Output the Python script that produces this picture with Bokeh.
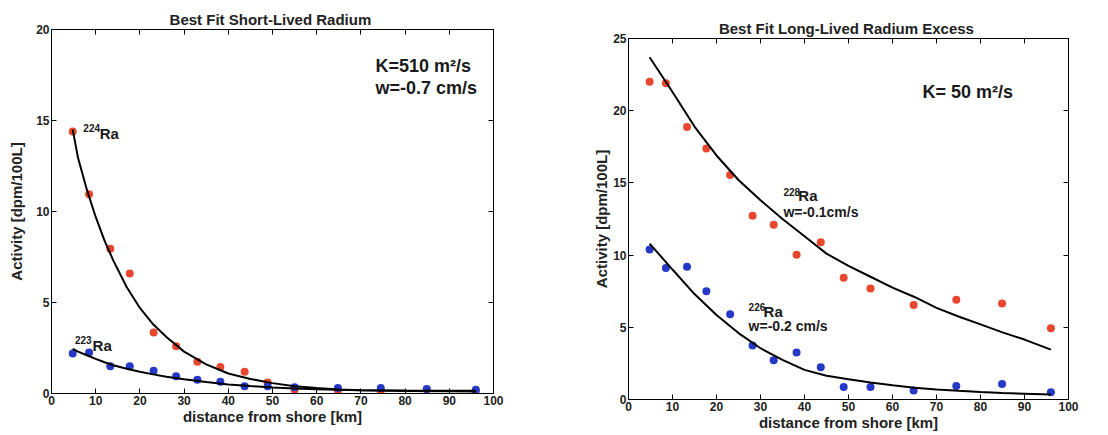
from bokeh.plotting import figure
from bokeh.models import LinearAxis, FixedTicker, Range1d
from bokeh.layouts import row
from bokeh.embed import file_html
from bokeh.resources import INLINE
from bokeh.core.properties import value

FONT = "Liberation Sans"
RED = "#e8472f"
BLUE = "#2538c6"

# station distances (km)
distance_km = [4.8, 8.5, 13.3, 17.7, 23.1, 28.2, 33.0, 38.2, 43.7, 48.9, 55.0, 64.8, 74.5, 84.9, 96.0]

# short-lived radium (dpm/100L)
ra224 = [14.4, 10.95, 7.95, 6.6, 3.35, 2.6, 1.75, 1.45, 1.2, 0.6, 0.2, 0.15, 0.15, 0.2, 0.15]
ra223 = [2.2, 2.25, 1.5, 1.5, 1.25, 0.95, 0.75, 0.65, 0.4, 0.4, 0.35, 0.3, 0.3, 0.25, 0.2]

# long-lived radium excess (dpm/100L)
ra228 = [22.0, 21.9, 18.87, 17.38, 15.54, 12.72, 12.1, 10.02, 10.89, 8.44, 7.68, 6.54, 6.9, 6.65, 4.93]
ra226 = [10.39, 9.1, 9.2, 7.5, 5.9, 3.74, 2.71, 3.26, 2.23, 0.87, 0.87, 0.62, 0.93, 1.08, 0.5]

# best-fit curves
fit_x_short = [4.8, 6, 8, 10, 12, 14, 17, 20, 23, 26, 30, 35, 40, 45, 50, 55, 60, 65, 70, 80, 90, 96]
fit224 = [14.5, 12.95, 11.2, 9.7, 8.4, 7.3, 5.85, 4.7, 3.8, 3.1, 2.3, 1.6, 1.1, 0.8, 0.57, 0.4, 0.3, 0.22, 0.18, 0.14, 0.12, 0.11]
fit223 = [2.45, 2.3, 2.1, 1.9, 1.72, 1.55, 1.36, 1.2, 1.05, 0.92, 0.78, 0.63, 0.5, 0.41, 0.33, 0.27, 0.23, 0.2, 0.18, 0.16, 0.15, 0.15]

fit_x_long = [4.8, 10, 15, 20, 25, 30, 35, 40, 45, 50, 55, 60, 65, 70, 75, 80, 85, 90, 96]
fit228 = [23.7, 21.3, 18.9, 16.9, 15.2, 13.8, 12.5, 11.3, 10.1, 9.25, 8.5, 7.75, 7.1, 6.35, 5.75, 5.2, 4.65, 4.15, 3.45]
fit226 = [10.8, 9.0, 7.3, 5.85, 4.6, 3.55, 2.75, 2.05, 1.65, 1.4, 1.18, 0.98, 0.82, 0.7, 0.6, 0.52, 0.45, 0.4, 0.34]

x_ticks = [0, 10, 20, 30, 40, 50, 60, 70, 80, 90, 100]
y_ticks_short = [0, 5, 10, 15, 20]
y_ticks_long = [0, 5, 10, 15, 20, 25]


def style_axis(ax, ticks, show_labels=True):
    ax.ticker = FixedTicker(ticks=ticks)
    ax.major_tick_in = 5
    ax.major_tick_out = 0
    ax.minor_tick_line_color = None
    ax.axis_line_color = "black"
    ax.major_tick_line_color = "black"
    ax.major_label_text_font = FONT
    ax.major_label_text_font_style = "bold"
    ax.major_label_text_color = "#222222"
    if show_labels:
        ax.major_label_text_font_size = "12px"
        ax.major_label_standoff = 2
    else:
        ax.major_label_overrides = {t: "" for t in ticks}
        ax.major_label_text_font_size = "1px"
        ax.major_label_standoff = 0


def make_fig(width, height, ymax, yticks, title, borders, ylabel_standoff):
    p = figure(width=width, height=height, x_range=Range1d(0, 100), y_range=Range1d(0, ymax),
               output_backend="svg", toolbar_location=None,
               min_border_left=borders[0], min_border_right=borders[1],
               min_border_top=borders[2], min_border_bottom=borders[3])
    p.frame_align = False
    p.grid.grid_line_color = None
    p.outline_line_color = "black"
    p.background_fill_color = "white"
    p.border_fill_color = "white"
    style_axis(p.xaxis[0], x_ticks)
    style_axis(p.yaxis[0], yticks)
    p.xaxis.axis_label = "distance from shore [km]"
    p.yaxis.axis_label = "Activity [dpm/100L]"
    for ax in (p.xaxis[0], p.yaxis[0]):
        ax.axis_label_text_font = FONT
        ax.axis_label_text_font_style = "bold"
        ax.axis_label_text_font_size = "15px"
        ax.axis_label_text_color = "#222222"
    p.xaxis.axis_label_standoff = 0
    p.yaxis.axis_label_standoff = ylabel_standoff
    top = LinearAxis()
    style_axis(top, x_ticks, show_labels=False)
    p.add_layout(top, "above")
    right = LinearAxis()
    style_axis(right, yticks, show_labels=False)
    p.add_layout(right, "right")
    p.title.text = title
    p.title.align = "center"
    p.title.text_font = FONT
    p.title.text_font_style = "bold"
    p.title.text_font_size = "15px"
    p.title.text_color = "#222222"
    p.title.standoff = 3
    return p


def label(p, x, y, text, size):
    p.text(x=[x], y=[y], text=[text], text_font=value(FONT), text_font_style="bold",
           text_font_size=size, text_color="#1a1a1a", text_baseline="alphabetic", text_align="left")


# ---- left panel ----
p1 = make_fig(548, 433, 20, y_ticks_short, "Best Fit  Short-Lived Radium", (51, 55, 29, 40), 8)
p1.scatter(distance_km, ra224, size=8, color=RED, line_color=None)
p1.scatter(distance_km, ra223, size=8, color=BLUE, line_color=None)
p1.line(fit_x_short, fit224, line_color="black", line_width=2)
p1.line(fit_x_short, fit223, line_color="black", line_width=2)
label(p1, 73.3, 18.0, "K=510 m²/s", "18px")
label(p1, 73.3, 16.8, "w=-0.7 cm/s", "18px")
label(p1, 7.2, 14.6, "224", "10px")
label(p1, 10.9, 14.3, "Ra", "15px")
label(p1, 5.3, 2.95, "223", "10px")
label(p1, 9.3, 2.65, "Ra", "15px")

# ---- right panel ----
p2 = make_fig(558, 433, 25, y_ticks_long, "Best Fit  Long-Lived Radium Excess", (80, 38, 38, 31), 0)
p2.scatter(distance_km, ra228, size=8, color=RED, line_color=None)
p2.scatter(distance_km, ra226, size=8, color=BLUE, line_color=None)
p2.line(fit_x_long, fit228, line_color="black", line_width=2)
p2.line(fit_x_long, fit226, line_color="black", line_width=2)
label(p2, 66.8, 21.3, "K= 50 m²/s", "18px")
label(p2, 35.2, 14.4, "228", "10px")
label(p2, 38.6, 14.1, "Ra", "15px")
label(p2, 35.2, 13.0, "w=-0.1cm/s", "14px")
label(p2, 27.3, 6.4, "226", "10px")
label(p2, 30.7, 6.1, "Ra", "15px")
label(p2, 27.3, 5.06, "w=-0.2 cm/s", "14px")

layout = row(p1, p2)
open("out.html", "w").write(file_html(layout, INLINE))
